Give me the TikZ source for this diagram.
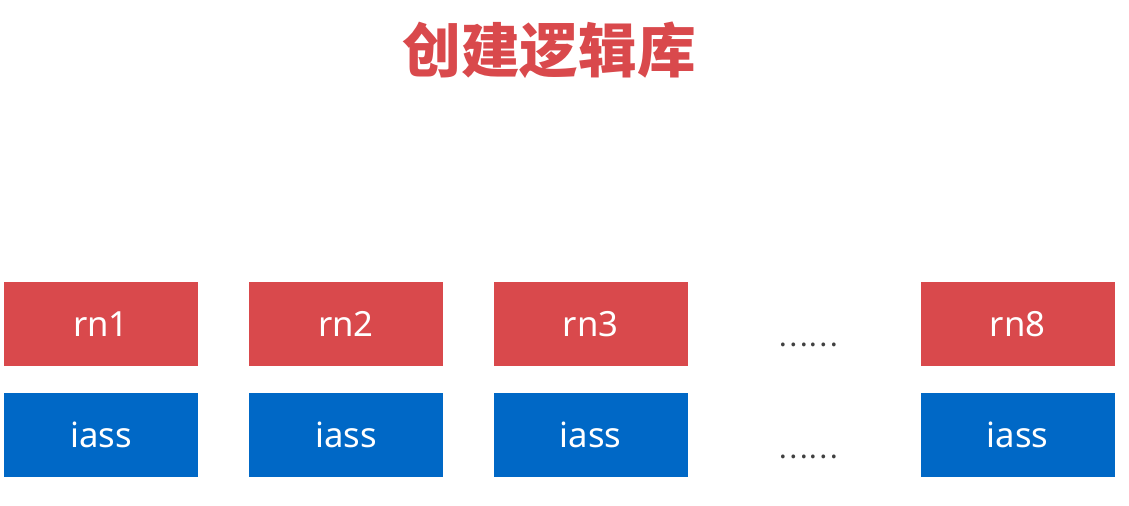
\documentclass[tikz,border=0pt]{standalone}
\usepackage{fontspec}
\setmainfont{Noto Sans}
\newfontfamily\cjk{Noto Sans CJK SC}
\usepackage{tikz}
\usetikzlibrary{positioning}
\definecolor{rnred}{HTML}{D9494C}
\definecolor{iassblue}{HTML}{0068C6}
\definecolor{dotgray}{HTML}{404040}

\begin{document}
\begin{tikzpicture}[x=0.75pt, y=-0.75pt,
    base/.style={minimum width=145.5pt, minimum height=63pt,
      inner sep=0pt, text=white, font=\fontsize{26}{30}\selectfont},
    rnbox/.style  ={base, fill=rnred},
    iassbox/.style={base, fill=iassblue},
    dots/.style={anchor=base, text=dotgray,
      font=\cjk\fontsize{21}{24}\selectfont},
    heading/.style={text=rnred, font=\cjk\bfseries\fontsize{44}{48}\selectfont},
]
\useasboundingbox (0,0) rectangle (1129,506);
% Title
\node[heading] (title) at (549, 50) {创建逻辑库};
% Boxes
\node[rnbox]   (rn1) at (101, 324)    {rn1};
\node[rnbox]   (rn2) at (346, 324)    {rn2};
\node[rnbox]   (rn3) at (590.5, 324)  {rn3};
\node[rnbox]   (rn8) at (1017.5, 324) {rn8};
\node[iassbox] (iass1) at (101, 435)    {iass};
\node[iassbox] (iass2) at (346, 435)    {iass};
\node[iassbox] (iass3) at (590.5, 435)  {iass};
\node[iassbox] (iass8) at (1017.5, 435) {iass};
% Ellipses
\node[dots] (rndots)   at (808, 346) {……};
\node[dots] (iassdots) at (808, 458) {……};
\end{tikzpicture}
\end{document}
